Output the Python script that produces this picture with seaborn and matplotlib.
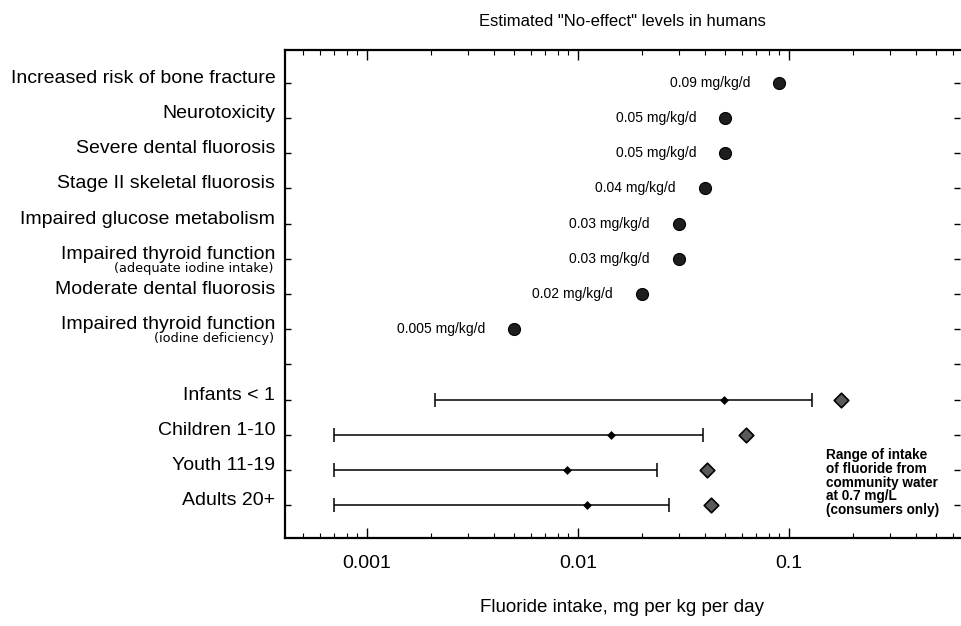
import matplotlib
matplotlib.use("Agg")
import matplotlib.pyplot as plt
import matplotlib.transforms as mtransforms
import numpy as np
import pandas as pd
import seaborn as sns

# ---------------- data ----------------
effect_labels = [
    "Increased risk of bone fracture",
    "Neurotoxicity",
    "Severe dental fluorosis",
    "Stage II skeletal fluorosis",
    "Impaired glucose metabolism",
    "Impaired thyroid function",
    "Moderate dental fluorosis",
    "Impaired thyroid function",
]
effect_notes = ["", "", "", "", "", "(adequate iodine intake)", "", "(iodine deficiency)"]
effect_levels = [0.09, 0.05, 0.05, 0.04, 0.03, 0.03, 0.02, 0.005]

group_labels = ["Infants < 1", "Children 1-10", "Youth 11-19", "Adults 20+"]
range_low = [0.0021, 0.0007, 0.0007, 0.0007]
range_mid = [0.049, 0.0143, 0.0089, 0.011]
range_high = [0.128, 0.039, 0.0237, 0.027]
water_intake = [0.176, 0.0625, 0.0408, 0.0427]

x_ticks = [0.001, 0.01, 0.1]
x_tick_labels = ["0.001", "0.01", "0.1"]

title_text = 'Estimated "No-effect" levels in humans'
xlabel_text = "Fluoride intake, mg per kg per day"
legend_text = "Range of intake\nof fluoride from\ncommunity water\nat 0.7 mg/L\n(consumers only)"

# ---------------- layout ----------------
sns.set_style("ticks")
plt.rcParams["font.family"] = ["Liberation Sans", "DejaVu Sans"]
plt.rcParams["text.color"] = "black"
plt.rcParams["axes.labelcolor"] = "black"
plt.rcParams["xtick.color"] = "black"
plt.rcParams["ytick.color"] = "black"

n_eff = len(effect_labels)
eff_pos = list(range(n_eff))
grp_pos = [n_eff + 1 + i for i in range(len(group_labels))]
all_pos = list(range(n_eff + 1 + len(group_labels)))
all_labels = effect_labels + [""] + group_labels

eff_df = pd.DataFrame({"level": effect_levels, "row": eff_pos})
grp_df = pd.DataFrame({"low": range_low, "mid": range_mid, "high": range_high,
                       "water": water_intake, "row": grp_pos})

W, H = 961, 626
fig = plt.figure(figsize=(W / 100, H / 100), dpi=100)
ax = fig.add_axes([285 / W, 1 - 538 / H, (960 - 285) / W, (538 - 50) / H])

ax.set_xscale("log")

# no-effect level circles
sns.scatterplot(data=eff_df, x="level", y="row", ax=ax, marker="o", s=75,
                color="#1e1e1e", edgecolor="black", linewidth=0.8, zorder=4, legend=False)
for v, r in zip(effect_levels, eff_pos):
    ax.annotate(f"{v:g} mg/kg/d", xy=(v, r), xytext=(-21, 0), textcoords="offset points",
                ha="right", va="center", fontsize=10, color="black")

# intake ranges
ax.errorbar(grp_df["mid"], grp_df["row"],
            xerr=[grp_df["mid"] - grp_df["low"], grp_df["high"] - grp_df["mid"]],
            fmt="none", ecolor="black", elinewidth=1.1, capsize=5, capthick=1.1, zorder=2)
sns.scatterplot(data=grp_df, x="mid", y="row", ax=ax, marker="D", s=16,
                color="black", edgecolor="black", linewidth=0.5, zorder=3, legend=False)
sns.scatterplot(data=grp_df, x="water", y="row", ax=ax, marker="D", s=55,
                color="#5a5a5a", edgecolor="black", linewidth=1.2, zorder=4, legend=False)

# axes limits
ax.set_xlim(10 ** (-3 + (285 - 367) / 211), 10 ** (-3 + (960 - 367) / 211))
ax.set_ylim(12 + (538 - 505) / 35.17, -(83 - 50) / 35.17)

# ticks
ax.set_xticks(x_ticks)
ax.set_xticklabels(x_tick_labels, fontsize=14)
ax.tick_params(axis="x", which="major", direction="in", length=7, width=1.0,
               top=True, bottom=True, pad=12)
ax.tick_params(axis="x", which="minor", direction="in", length=3.5, width=0.8,
               top=True, bottom=True)
ax.set_yticks(all_pos)
ax.set_yticklabels(all_labels, fontsize=14)
ax.tick_params(axis="y", which="major", direction="in", length=4, width=1.0,
               left=True, right=True, pad=7)
ax.tick_params(axis="y", which="minor", left=False, right=False)
plt.setp(ax.get_yticklabels(), va="baseline")

# subtitles under two-line labels
off = mtransforms.ScaledTranslation(-8 / 72, -2 / 72, fig.dpi_scale_trans)
ytrans = ax.get_yaxis_transform() + off
for note, r in zip(effect_notes, eff_pos):
    if note:
        ax.text(0, r, note, transform=ytrans, ha="right", va="top", fontsize=9.3,
                family=["DejaVu Sans"])

for side in ["left", "top", "bottom"]:
    ax.spines[side].set_linewidth(1.6)
    ax.spines[side].set_color("black")
ax.spines["right"].set_visible(False)

ax.set_title(title_text, fontsize=12, pad=17)
ax.set_xlabel(xlabel_text, fontsize=13.5, labelpad=20)
ax.set_ylabel("")

ax.text(826 / W, 1 - 448 / H, legend_text, transform=fig.transFigure, ha="left", va="top",
        fontsize=9.8, linespacing=0.98, fontweight="bold")

fig.savefig("out.png", dpi=100)
